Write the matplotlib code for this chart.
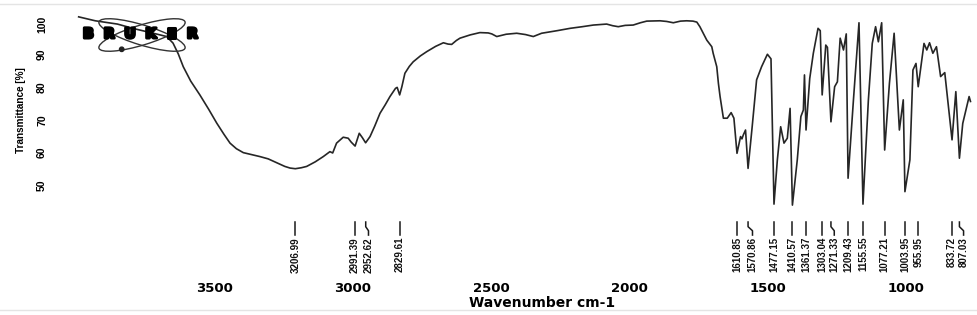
import matplotlib
matplotlib.use("Agg")
import matplotlib.pyplot as plt
import matplotlib.transforms as mtransforms
import matplotlib.patheffects as pe
from matplotlib.patches import Ellipse, Circle
from matplotlib.lines import Line2D

# IR spectrum (wavenumber in cm-1, transmittance in %)
wavenumber = [
    3990, 3930, 3850, 3790, 3720, 3672, 3649, 3630, 3612, 3585, 3552, 3520,
    3491, 3465, 3443, 3420, 3395, 3365, 3335, 3305, 3274, 3245, 3226, 3207,
    3185, 3166, 3135, 3106, 3082, 3072, 3058, 3034, 3016, 3005, 2991, 2976,
    2965, 2953, 2937, 2920, 2901, 2882, 2865, 2845, 2839, 2830, 2822, 2811,
    2795, 2781, 2755, 2732, 2700, 2672, 2655, 2642, 2625, 2612, 2575, 2540,
    2510, 2497, 2479, 2445, 2407, 2375, 2347, 2317, 2260, 2214, 2170, 2130,
    2082, 2060, 2040, 2015, 1986, 1960, 1937, 1889, 1865, 1841, 1815, 1793,
    1770, 1756, 1745, 1733, 1720, 1702, 1697, 1684, 1678, 1672, 1660, 1646,
    1632, 1622, 1610.85, 1598, 1593, 1588, 1580, 1570.86, 1556, 1540, 1522,
    1501, 1488, 1477.15, 1465, 1453, 1441, 1429, 1419, 1410.57, 1393, 1380,
    1371, 1367, 1361.37, 1348, 1335, 1318, 1310, 1303.04, 1290, 1284,
    1271.33, 1258, 1248, 1238, 1226, 1216, 1209.43, 1190, 1170, 1155.55,
    1136, 1122, 1110, 1100, 1088, 1077.21, 1060, 1043, 1024, 1010, 1003.95,
    986, 975, 964, 955.95, 935, 925, 915, 903, 890, 875, 860, 833.72, 820,
    807.03, 795, 772, 767,
]
transmittance = [
    100.8, 99.6, 98.6, 97.2, 95.8, 94.8, 92.8, 89.5, 85.6, 81.2, 77.0, 72.6,
    68.4, 65.0, 62.3, 60.6, 59.4, 58.8, 58.2, 57.5, 56.3, 55.2, 54.7, 54.5,
    54.8, 55.2, 56.6, 58.2, 59.7, 59.3, 62.3, 64.1, 63.8, 62.6, 61.4, 65.3,
    64.0, 62.4, 64.3, 67.5, 71.4, 74.0, 76.5, 79.0, 79.3, 77.0, 79.5, 83.6,
    85.7, 87.1, 88.9, 90.2, 91.8, 92.9, 92.5, 92.4, 93.6, 94.3, 95.3, 96.0,
    95.9, 95.6, 94.8, 95.5, 95.8, 95.4, 94.8, 95.8, 96.6, 97.3, 97.8, 98.3,
    98.6, 98.1, 97.8, 98.2, 98.3, 99.0, 99.5, 99.6, 99.4, 99.0, 99.5, 99.6,
    99.5, 99.2, 97.8, 95.8, 93.7, 91.7, 89.7, 85.6, 80.5, 76.5, 69.9, 69.9,
    71.6, 69.9, 59.2, 64.3, 63.6, 64.8, 66.3, 54.6, 67.3, 81.6, 85.6,
    89.4, 88.0, 43.7, 57.2, 67.3, 62.3, 63.8, 72.9, 43.4, 57.2, 70.4,
    72.4, 83.1, 66.3, 82.0, 89.7, 97.3, 96.6, 77.0, 92.2, 91.5,
    68.8, 79.5, 81.0, 94.3, 90.7, 95.6, 51.6, 75.5, 99.0, 43.7,
    75.5, 92.7, 97.8, 93.2, 99.0, 60.2, 80.5, 95.8, 66.3, 75.5, 47.5,
    57.2, 84.6, 86.6, 79.5, 92.7, 90.7, 92.9, 89.7, 91.7, 82.6, 83.8, 63.3, 78.0,
    57.7, 68.3, 76.5, 75.0,
]

# picked peaks printed under the trace
peak_positions = [3206.99, 2991.39, 2952.62, 2829.61, 1610.85, 1570.86, 1477.15,
                  1410.57, 1361.37, 1303.04, 1271.33, 1209.43, 1155.55, 1077.21,
                  1003.95, 955.95, 833.72, 807.03]
peak_labels = ["%.2f" % p for p in peak_positions]

x_ticks = [3500, 3000, 2500, 2000, 1500, 1000]
y_ticks = [50, 60, 70, 80, 90, 100]

# labels that are pushed sideways so they do not collide (cm-1)
label_shift = {2952.62: -10, 1570.86: -16, 1271.33: -12, 807.03: -15}

narrow = ["Liberation Sans", "DejaVu Sans"]

fig = plt.figure(figsize=(9.77, 3.15), dpi=100)
ax = fig.add_axes([75.9 / 977, 1 - 278 / 315, 899.3 / 977, 270 / 315])

ax.plot(wavenumber, transmittance, color="#262626", lw=1.2, zorder=3)

ax.set_xlim(4000, 750)
ax.set_ylim(21.18, 103.5)
for s in ax.spines.values():
    s.set_visible(False)
ax.patch.set_visible(False)

ax.set_xticks(x_ticks)
ax.set_xticklabels([str(t) for t in x_ticks], fontsize=9.5, fontweight="bold")
ax.set_yticks(y_ticks)
ax.set_yticklabels([str(t) for t in y_ticks], fontsize=7.5, fontweight="bold",
                   family=narrow)
ax.tick_params(axis="x", length=0, pad=3)
ax.tick_params(axis="y", length=0, pad=20.8, labelrotation=90)

ax.set_xlabel("Wavenumber cm-1", fontsize=10, fontweight="bold", ha="center", va="center")
ax.xaxis.set_label_coords(0.5183, -0.0926)
ax.set_ylabel("Transmittance [%]", fontsize=7.2, fontweight="bold",
              family=narrow, ha="center", va="center")
ax.yaxis.set_label_coords(-0.061, 0.622)

# peak markers: short line + rotated wavenumber
trans = mtransforms.blended_transform_factory(ax.transData, ax.transAxes)
for p, lab in zip(peak_positions, peak_labels):
    q = p + label_shift.get(p, 0)
    ax.plot([p, p, q, q], [0.2074, 0.19, 0.175, 0.159], transform=trans,
            color="#1a1a1a", lw=1.1, clip_on=False)
    ax.text(q, 0.152, lab, transform=trans, rotation=90, ha="center", va="top",
            fontsize=7, fontweight="bold", family=narrow, color="#111111")

# Bruker logo in the top-left corner (pixel positions / 100 = inches)
inch = fig.dpi_scale_trans
for ang in (17, -17):
    fig.add_artist(Ellipse((1.42, 2.80), 0.90, 0.20, angle=ang, transform=inch,
                           fill=False, edgecolor="#333333", lw=1.0))
fig.add_artist(Circle((1.217, 2.657), 0.022, transform=inch, color="#222222"))
for i, ch in enumerate("BRUKER"):
    fig.text(0.884 + i * 0.208, 2.81, ch, transform=inch, ha="center", va="center",
             fontsize=10, fontweight="heavy", color="black", zorder=5,
             path_effects=[pe.withStroke(linewidth=2.2, foreground="black")])

# faint scan borders
for yy in (4, 310):
    fig.add_artist(Line2D([0, 1], [1 - yy / 315, 1 - yy / 315], transform=fig.transFigure,
                          color="#e4e4e4", lw=1))

fig.savefig("out.png", dpi=100, facecolor="white")
